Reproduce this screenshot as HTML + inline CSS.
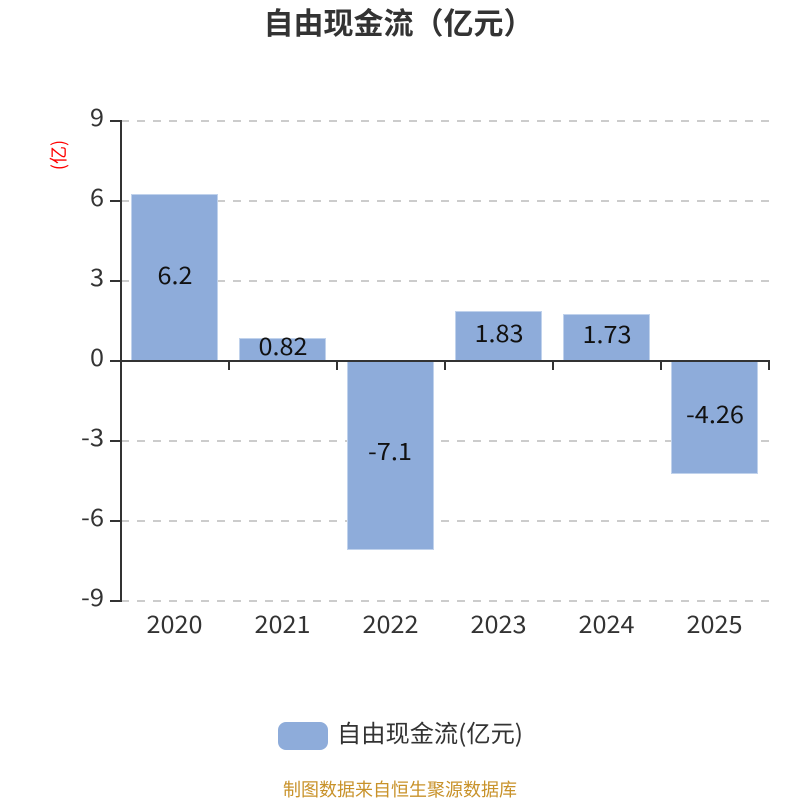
<!DOCTYPE html>
<html><head><meta charset="utf-8"><style>
html,body{margin:0;padding:0;background:#fff}
svg{display:block}
text{font-family:"Liberation Sans","Noto Sans CJK SC",sans-serif}
.n{font-family:"Noto Sans CJK SC",sans-serif}
</style></head><body>
<svg width="800" height="800" viewBox="0 0 800 800" xmlns="http://www.w3.org/2000/svg">
<rect width="800" height="800" fill="#fff"/>
<text x="398.500" y="34" font-size="30" font-weight="700" fill="#333" text-anchor="middle">自由现金流（亿元）</text>
<g stroke="#ccc" stroke-width="2" stroke-dasharray="8 8">
<path d="M121 121H769M121 201H769M121 281H769M121 441H769M121 521H769M121 601H769"/>
</g>
<g fill="#8eacda" stroke="#c0d2ec" stroke-width="1">
<rect x="131.500" y="194.500" width="86" height="166"/>
<rect x="239.500" y="338.500" width="86" height="22"/>
<rect x="347.500" y="360.500" width="86" height="189"/>
<rect x="455.500" y="311.500" width="86" height="49"/>
<rect x="563.500" y="314.500" width="86" height="46"/>
<rect x="671.500" y="360.500" width="86" height="113"/>
</g>
<g stroke="#333" stroke-width="2" fill="none">
<path d="M121 120V602"/>
<path d="M110 121H121M110 201H121M110 281H121M110 361H121M110 441H121M110 521H121M110 601H121"/>
<path d="M121 361H770"/>
<path d="M229 361V370M337 361V370M445 361V370M553 361V370M661 361V370M769 361V370"/>
</g>
<g font-size="24" fill="#333">
<text class="n" x="90" y="126" textLength="14" lengthAdjust="spacingAndGlyphs">9</text>
<text class="n" x="90" y="206" textLength="14" lengthAdjust="spacingAndGlyphs">6</text>
<text class="n" x="90" y="286" textLength="14" lengthAdjust="spacingAndGlyphs">3</text>
<text class="n" x="90" y="366" textLength="14" lengthAdjust="spacingAndGlyphs">0</text>
<text class="n" x="81" y="446" textLength="23" lengthAdjust="spacingAndGlyphs">-3</text>
<text class="n" x="81" y="526" textLength="23" lengthAdjust="spacingAndGlyphs">-6</text>
<text class="n" x="81" y="606" textLength="23" lengthAdjust="spacingAndGlyphs">-9</text>
</g>
<g font-size="24" fill="#333">
<text class="n" x="146.500" y="633" textLength="56" lengthAdjust="spacingAndGlyphs">2020</text>
<text class="n" x="254.500" y="633" textLength="56" lengthAdjust="spacingAndGlyphs">2021</text>
<text class="n" x="362.500" y="633" textLength="56" lengthAdjust="spacingAndGlyphs">2022</text>
<text class="n" x="470.500" y="633" textLength="56" lengthAdjust="spacingAndGlyphs">2023</text>
<text class="n" x="578.500" y="633" textLength="56" lengthAdjust="spacingAndGlyphs">2024</text>
<text class="n" x="686.500" y="633" textLength="56" lengthAdjust="spacingAndGlyphs">2025</text>
</g>
<g font-size="24" fill="#111">
<text class="n" x="157.500" y="284" textLength="35" lengthAdjust="spacingAndGlyphs">6.2</text>
<text class="n" x="258.500" y="355" textLength="49" lengthAdjust="spacingAndGlyphs">0.82</text>
<text class="n" x="368" y="460" textLength="44" lengthAdjust="spacingAndGlyphs">-7.1</text>
<text class="n" x="474.500" y="342" textLength="49" lengthAdjust="spacingAndGlyphs">1.83</text>
<text class="n" x="582.500" y="343" textLength="49" lengthAdjust="spacingAndGlyphs">1.73</text>
<text class="n" x="686" y="423" textLength="58" lengthAdjust="spacingAndGlyphs">-4.26</text>
</g>
<text class="n" transform="translate(65,155) rotate(-90)" font-size="18" fill="#f00" text-anchor="middle">(亿)</text>
<rect x="278" y="722" width="50" height="28" rx="8" fill="#8eacda"/>
<text class="n" x="337" y="742" font-size="24" fill="#333" textLength="186" lengthAdjust="spacingAndGlyphs">自由现金流(亿元)</text>
<text class="n" x="400" y="796" font-size="18" fill="#c8922a" text-anchor="middle">制图数据来自恒生聚源数据库</text>
</svg>
</body></html>
